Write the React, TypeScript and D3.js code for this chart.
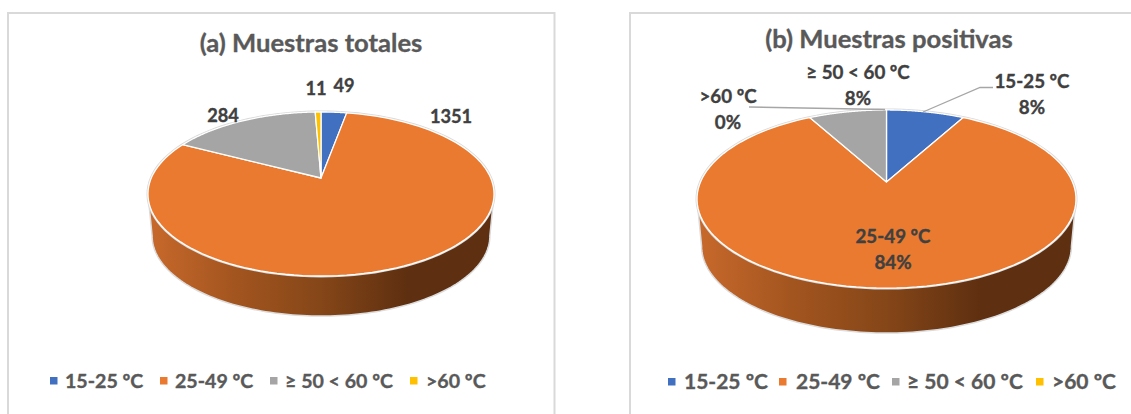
import React from "react";
import * as d3 from "d3";

const categories = ["15-25 ºC", "25-49 ºC", "≥ 50 < 60 ºC", ">60 ºC"];
const colors = ["#4270c0", "#e97a2f", "#a5a5a5", "#ffc000"];
const totalSamples = [49, 1351, 284, 11];
const positiveSamples = [8, 84, 8, 0];

type Disc = { cx: number; cy: number; a: number; b: number; k: number; depth: number; shrink: number };

// Perspective mapping of a unit disc: the far rim is compressed and the hub sits above the ellipse centre.
const discA: Disc = { cx: 321, cy: 178, a: 169.7, b: 78.9, k: 0.195, depth: 42.4, shrink: 0.976 };
const discB: Disc = { cx: 886.5, cy: 182, a: 186, b: 85.8, k: 0.191, depth: 47.5, shrink: 0.976 };

const project = (d: Disc, angle: number, r = 1, lower = false): [number, number] => {
  const u = r * Math.sin(angle);
  const v = -r * Math.cos(angle);
  const w = 1 - d.k * v;
  const s = lower ? d.shrink : 1;
  return [d.cx + (s * d.a * u) / w, d.cy + (lower ? d.depth : 0) + (s * d.b * v) / w];
};

const line = d3.line<[number, number]>();

const rimPoints = (d: Disc, from: number, to: number, lower = false) =>
  d3.range(0, 121).map((i) => project(d, from + ((to - from) * i) / 120, 1, lower));

const slices = (values: number[]) =>
  d3.pie<number>().sort(null).value((v) => v)(values);

// Angle where the projected rim reaches its horizontal extreme.
const tipAngle = (d: Disc) => Math.PI / 2 + Math.asin(d.k);

function Pie3D({ id, disc, values }: { id: string; disc: Disc; values: number[] }) {
  const tip = tipAngle(disc);
  const wallPts = [
    ...rimPoints(disc, tip, 2 * Math.PI - tip),
    ...rimPoints(disc, 2 * Math.PI - tip, tip, true),
  ];
  const xLeft = disc.cx - disc.a * 1.02;
  const xRight = disc.cx + disc.a * 1.02;
  return (
    <g>
      <defs>
        <linearGradient id={id} gradientUnits="userSpaceOnUse" x1={xLeft} x2={xRight} y1={0} y2={0}>
          <stop offset="0" stopColor="#c8692c" />
          <stop offset="0.25" stopColor="#a3551f" />
          <stop offset="0.5" stopColor="#854618" />
          <stop offset="0.75" stopColor="#5e2f10" />
          <stop offset="1" stopColor="#5e2f10" />
        </linearGradient>
      </defs>
      <path d={(line(wallPts) ?? "") + "Z"} fill={`url(#${id})`} stroke="#dcdcdc" strokeWidth={1.5} />
      <path d={(line(rimPoints(disc, 0, 2 * Math.PI)) ?? "") + "Z"} fill="#fff" stroke="#d9d9d9" strokeWidth={3} />
      {slices(values).map((s, i) =>
        s.endAngle - s.startAngle > 0 ? (
          <path
            key={categories[i]}
            d={(line([[disc.cx, disc.cy], ...rimPoints(disc, s.startAngle, s.endAngle)]) ?? "") + "Z"}
            fill={colors[i]}
            stroke="#fff"
            strokeWidth={1.3}
            strokeLinejoin="round"
          />
        ) : null
      )}
    </g>
  );
}

const heavy = { stroke: "currentColor", strokeWidth: 0.35 };

function Legend({ y, size, swatches, texts }: { y: number; size: number; swatches: number[]; texts: number[] }) {
  return (
    <g>
      {categories.map((c, i) => (
        <g key={c}>
          <rect x={swatches[i]} y={y - 4} width={7.5} height={7.5} fill={colors[i]} />
          <text x={texts[i]} y={y + 6.5} fontSize={size} fontWeight={700} fill="#595959" color="#595959" {...heavy}>
            {c}
          </text>
        </g>
      ))}
    </g>
  );
}

const labelInk = "#404040";

function Label({ x, y, lines, size = 18.8 }: { x: number; y: number; lines: string[]; size?: number }) {
  return (
    <text textAnchor="middle" fontSize={size} fontWeight={700} fill={labelInk} color={labelInk} {...heavy}>
      {lines.map((t, i) => (
        <tspan key={t} x={x} y={y + i * 26}>
          {t}
        </tspan>
      ))}
    </text>
  );
}

export default function App() {
  return (
    <svg
      width={1131}
      height={414}
      style={{ position: "absolute", left: 0, top: 0, fontFamily: "Lato, 'Open Sans', sans-serif" }}
    >
      <rect width={1131} height={414} fill="#fff" />
      <path d="M8 414V13H554.5V414" fill="none" stroke="#d9d9d9" strokeWidth={2} />
      <path d="M630 414V13H1131" fill="none" stroke="#d9d9d9" strokeWidth={2} />

      <text x={311} y={52} textAnchor="middle" fontSize={25.6} fontWeight={700} fill="#595959" color="#595959" {...heavy}>
        (a) Muestras totales
      </text>
      <text x={889} y={48} textAnchor="middle" fontSize={25.6} fontWeight={700} fill="#595959" color="#595959" {...heavy}>
        (b) Muestras positivas
      </text>

      <Pie3D id="wall-a" disc={discA} values={totalSamples} />
      <Pie3D id="wall-b" disc={discB} values={positiveSamples} />

      <Label x={344} y={92} lines={[String(totalSamples[0])]} size={18.2} />
      <Label x={316} y={95} lines={[String(totalSamples[3])]} size={18.2} />
      <Label x={451} y={123} lines={[String(totalSamples[1])]} size={18.2} />
      <Label x={223} y={122} lines={[String(totalSamples[2])]} size={18.2} />

      <path d="M923 112L980 87.5H993" fill="none" stroke="#a6a6a6" strokeWidth={1.3} />
      <path d="M749 107L885 109.5" fill="none" stroke="#a6a6a6" strokeWidth={1.5} />

      <Label x={1032} y={88} lines={[categories[0], `${positiveSamples[0]}%`]} />
      <Label x={858} y={79} lines={[categories[2], `${positiveSamples[2]}%`]} />
      <Label x={728} y={103} lines={[categories[3], `${positiveSamples[3]}%`]} />
      <Label x={893} y={243} lines={[categories[1], `${positiveSamples[1]}%`]} />

      <Legend y={381} size={19.6} swatches={[50, 160, 270, 410]} texts={[65, 175, 285, 426]} />
      <Legend y={382} size={21} swatches={[668, 779, 892, 1036]} texts={[684, 796, 907, 1052]} />
    </svg>
  );
}
